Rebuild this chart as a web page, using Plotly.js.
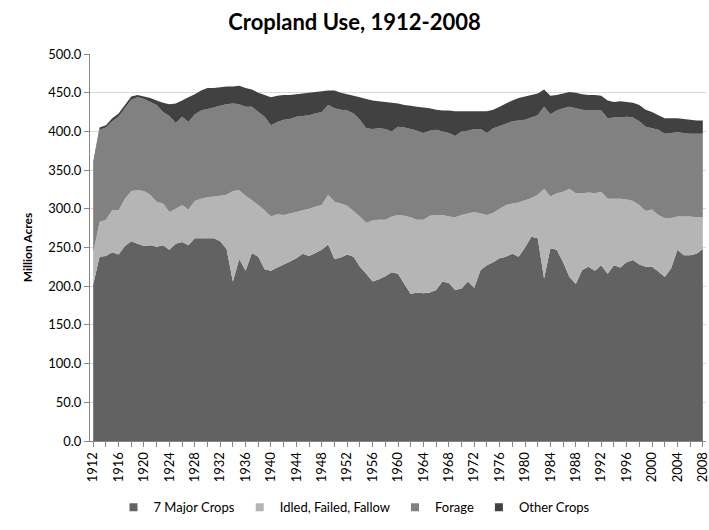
<!DOCTYPE html>
<html>
<head>
<meta charset="utf-8">
<script src="https://cdn.plot.ly/plotly-3.0.1.min.js"></script>
<style>html,body{margin:0;padding:0;background:#fff;}#chart{width:709px;height:530px;}</style>
</head>
<body>
<div id="chart"></div>
<script>
const years = [];
for (let y = 1912; y <= 2008; y++) years.push(y);

const majorCrops = [
202,238,239,244,241,252,258,255,252,253,251,253,247,255,257,253,262,262,262,262,
258,248,206,235,220,243,238,222,220,224,228,232,236,242,239,243,247,254,235,237,
241,238,225,216,206,209,213,218,216,203,190,192,191,192,195,206,204,195,197,206,
198,221,227,231,236,238,242,238,250,264,262,210,249,247,231,212,203,221,225,220,
227,216,227,224,231,234,228,225,225,219,212,223,247,240,240,242,248];

const idledFailedFallow = [
41,45,47,54,57,61,65,69,71,65,58,54,49,45,48,46,48,51,53,54,
59,70,117,89,97,68,67,76,70,69,64,62,60,56,61,60,58,64,74,70,
63,59,65,66,79,77,73,72,76,88,99,94,95,99,97,86,86,94,95,88,
98,73,65,64,64,67,65,70,61,50,56,116,67,73,91,114,117,99,96,100,
95,97,86,89,81,76,77,72,74,73,76,65,43,50,50,47,41];

const forage = [
113,119,119,115,121,117,118,120,119,120,125,118,124,111,114,113,112,114,114,115,
116,117,113,111,115,121,120,121,118,119,123,122,123,122,121,120,120,116,121,121,
123,126,125,122,118,118,117,110,114,114,114,115,112,110,110,108,108,105,108,107,
107,109,106,109,107,105,106,106,104,104,103,106,106,107,108,106,110,108,106,107,
105,104,105,105,107,108,108,109,105,110,109,110,109,108,107,108,108];

const otherCrops = [
4,3,3,4,4,4,4,3,3,5,6,12,15,25,21,32,26,26,27,25,
24,23,22,24,24,22,25,28,36,34,32,31,29,29,29,28,27,19,23,22,
21,23,29,38,37,35,35,37,30,29,30,31,33,29,26,27,29,32,26,25,
23,23,28,24,25,26,27,29,30,29,28,22,24,20,19,19,20,20,20,20,
19,23,20,21,19,19,21,22,21,19,20,19,18,18,18,17,17];

const seriesNames = ['7 Major Crops', 'Idled, Failed, Fallow', 'Forage', 'Other Crops'];
const seriesColors = ['#626262', '#b5b5b5', '#818181', '#414141'];
const seriesValues = [majorCrops, idledFailedFallow, forage, otherCrops];

const tickYears = [];
for (let y = 1912; y <= 2008; y += 4) tickYears.push(y);

const traces = [];
seriesValues.forEach((vals, i) => {
  traces.push({
    type: 'scatter', x: years, y: vals, name: seriesNames[i],
    stackgroup: 'one', mode: 'none', fillcolor: seriesColors[i],
    line: {width: 0}, showlegend: false, hoverinfo: 'x+y+name'
  });
});
seriesValues.forEach((vals, i) => {
  traces.push({
    type: 'scatter', x: [null], y: [null], name: seriesNames[i],
    mode: 'markers', marker: {symbol: 'square', size: 8, color: seriesColors[i]},
    showlegend: true, hoverinfo: 'skip'
  });
});

const font = "Lato, 'Open Sans', 'DejaVu Sans', sans-serif";

const layout = {
  width: 709, height: 530,
  paper_bgcolor: '#ffffff', plot_bgcolor: '#ffffff',
  margin: {l: 90, r: 3, t: 54, b: 89},
  font: {family: font, size: 13, color: '#000'},
  title: {text: '<b>Cropland Use, 1912-2008</b>', x: 0.5, xref: 'container', xanchor: 'center',
          y: 0.957, yref: 'container', yanchor: 'middle', font: {family: font, size: 22, color: '#000'}},
  xaxis: {
    type: 'linear', range: [1911.5, 2008.5], tickvals: tickYears, ticktext: tickYears.map(String),
    tickangle: -90, ticks: 'outside', ticklen: 5, tickcolor: '#868686', ticklabeloverflow: 'allow',
    showgrid: false, zeroline: false, showline: true, linecolor: '#868686', linewidth: 1,
    tickfont: {family: font, size: 13, color: '#000'},
    minor: {dtick: 2, tick0: 1912, ticks: 'outside', ticklen: 5, tickcolor: '#868686', showgrid: false}
  },
  yaxis: {
    range: [0, 500], dtick: 50, tickformat: '.1f', ticks: 'outside', ticklen: 5, tickcolor: '#868686',
    showgrid: true, gridcolor: '#d9d9d9', gridwidth: 1, zeroline: false,
    showline: true, linecolor: '#868686', linewidth: 1,
    tickfont: {family: font, size: 13, color: '#000'},
    title: {text: '<b>Million Acres</b>', font: {family: font, size: 12, color: '#000'}, standoff: 12}
  },
  legend: {orientation: 'h', x: 0.5, xref: 'container', xanchor: 'center', y: 0.043, yref: 'container', yanchor: 'middle',
           traceorder: 'normal', font: {family: font, size: 13, color: '#000'}, itemwidth: 30, bgcolor: 'rgba(0,0,0,0)'},
  showlegend: true
};

Plotly.newPlot('chart', traces, layout, {displayModeBar: false, staticPlot: true});
</script>
</body>
</html>
